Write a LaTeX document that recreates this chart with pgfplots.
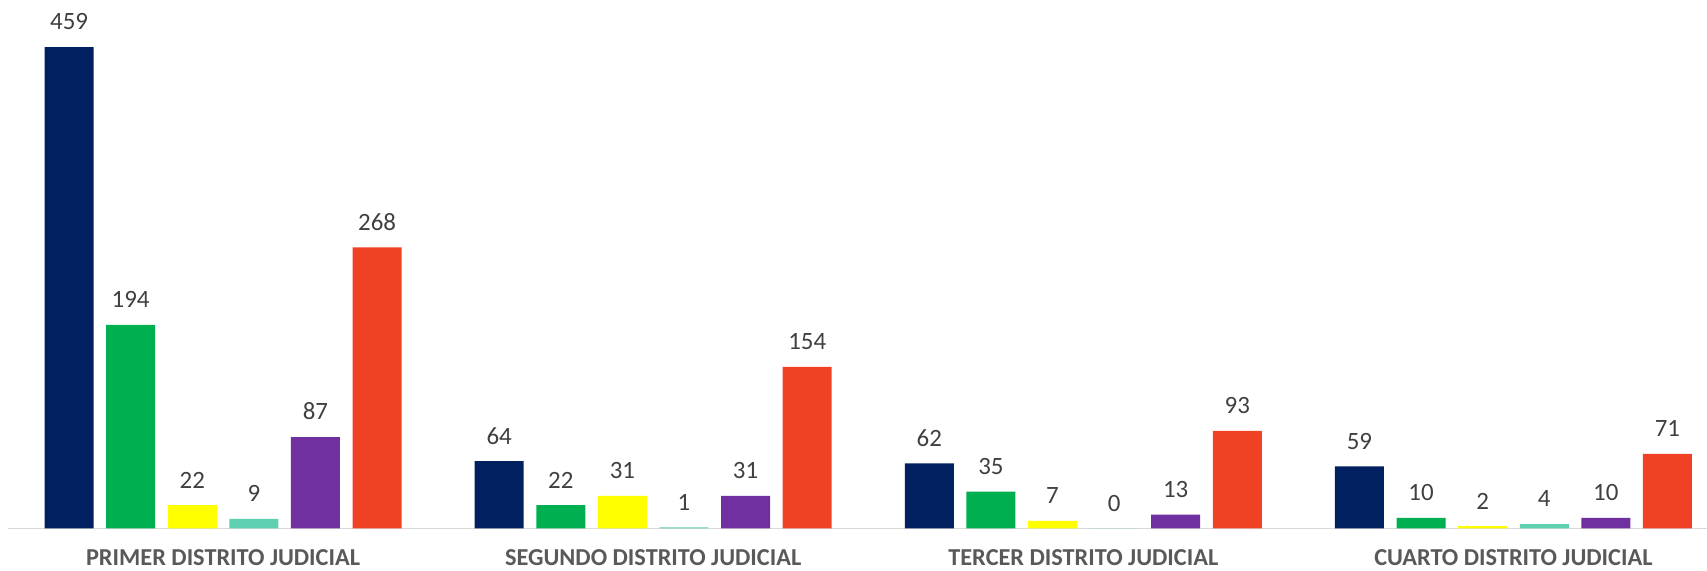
\documentclass[border=0pt]{standalone}
\usepackage{pgfplots}
\pgfplotsset{compat=1.18}
\usepackage{fontspec}
\setmainfont{Carlito}

\definecolor{cNavy}{HTML}{002060}
\definecolor{cGreen}{HTML}{00B050}
\definecolor{cYellow}{HTML}{FFFF00}
\definecolor{cTeal}{HTML}{5ECFB1}
\definecolor{cPurple}{HTML}{7030A0}
\definecolor{cRed}{HTML}{F04124}
\definecolor{cAxis}{HTML}{D9D9D9}
\definecolor{cLabel}{HTML}{404040}
\definecolor{cCat}{HTML}{595959}

\begin{document}
\begin{tikzpicture}
\begin{axis}[
    scale only axis,
    width=849.5bp, height=264.15bp,
    xmin=-0.5, xmax=3.45,
    ymin=0, ymax=504,
    clip=false,
    ybar=6.3bp, bar width=24.5bp,
    separate axis lines,
    axis x line*=bottom,
    axis y line=none,
    x axis line style={draw=cAxis, line width=0.7bp},
    xtick={0,1,2,3},
    xticklabels={PRIMER DISTRITO JUDICIAL, SEGUNDO DISTRITO JUDICIAL,
                 TERCER DISTRITO JUDICIAL, CUARTO DISTRITO JUDICIAL},
    xtick style={draw=none},
    xticklabel style={font=\bfseries\fontsize{12.2}{14}\selectfont, text=cCat,
                      anchor=base, yshift=-14.2bp},
    ytick=\empty,
    /pgf/number format/assume math mode=true,
    nodes near coords,
    every node near coord/.append style={anchor=base, yshift=8.6bp,
        font=\fontsize{12.5}{14}\selectfont, text=cLabel},
]
% series: navy, green, yellow, teal, purple, red
\addplot[fill=cNavy, draw=none] coordinates {(0,459) (1,64) (2,62) (3,59)};
\addplot[fill=cGreen, draw=none] coordinates {(0,194) (1,22) (2,35) (3,10)};
\addplot[fill=cYellow, draw=none] coordinates {(0,22) (1,31) (2,7) (3,2)};
\addplot[fill=cTeal, draw=none] coordinates {(0,9) (1,1) (2,0) (3,4)};
\addplot[fill=cPurple, draw=none] coordinates {(0,87) (1,31) (2,13) (3,10)};
\addplot[fill=cRed, draw=none] coordinates {(0,268) (1,154) (2,93) (3,71)};
\end{axis}
\pgfresetboundingbox
\useasboundingbox (-4bp,-21.35bp) rectangle (849.5bp,264.15bp);
\end{tikzpicture}
\end{document}
